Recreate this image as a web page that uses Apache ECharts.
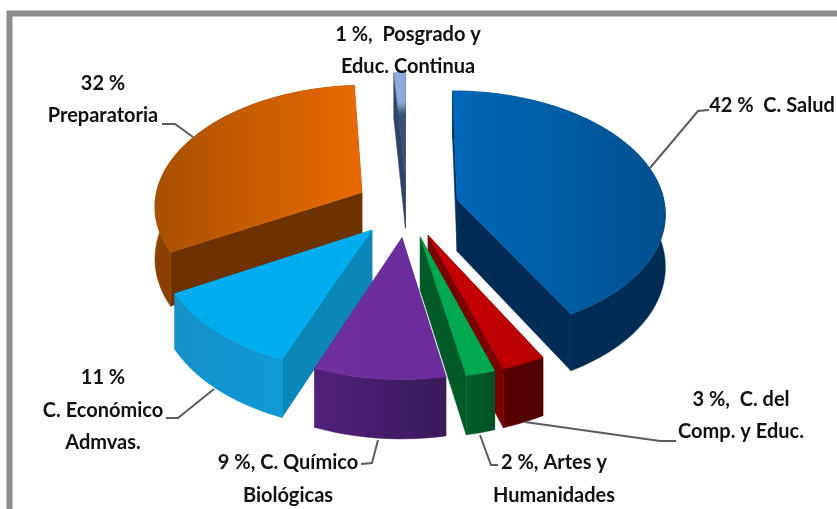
<!DOCTYPE html>
<html><head><meta charset="utf-8">
<style>html,body{margin:0;padding:0;background:#fff}#c{width:837px;height:509px;filter:blur(0.45px)}</style>
<script src="https://cdn.jsdelivr.net/npm/echarts@6/dist/echarts.min.js"></script>
</head><body><div id="c"></div>
<script>
// clockwise from 12 o'clock
const categories = ['C. Salud','C. del Comp. y Educ.','Artes y Humanidades','C. Químico Biológicas','C. Económico Admvas.','Preparatoria','Posgrado y Educ. Continua'];
const values = [42, 3, 2, 9, 11, 32, 1];
const topColors = [['#0068b8','#00508f'],['#c80000','#b80000'],['#00a84f','#00a84f'],['#7030a0','#6a2c9c'],['#00aeef','#00aeef'],['#a85000','#ea6a00'],['#8faadc','#3a5070']];
const arcWall = [['#002b55','#002b55'],['#5c0000','#4e0000'],['#00602c','#004f24'],['#521f7c','#381a5a'],['#1690c8','#0f9ad6'],['#8a4000','#8a4000'],['#2f4468','#2f4468']];
const startWall = ['#00305c','#4e0000','#00602c','#3c1a60','#0a86b8','#6e3200','#2f4468'];
const endWall = ['#002b55','#7a0000','#005a28','#4b1f78','#0a86b8','#6e3200','#2f4468'];
const verticalTop = [false,false,false,false,false,false,true];
const labels = [
  {lines:['42 %  C. Salud'],x:772,y:[106]},
  {lines:['3 %,  C. del','Comp. y Educ.'],x:741,y:[400,432]},
  {lines:['2 %, Artes y','Humanidades'],x:554,y:[463,496]},
  {lines:['9 %, C. Químico','Biológicas'],x:288,y:[463,496]},
  {lines:['11 %','C. Económico','Admvas.'],x:103,y:[378,411,443]},
  {lines:['32 %','Preparatoria'],x:103,y:[84,116]},
  {lines:['1 %,  Posgrado y','Educ. Continua'],x:408,y:[35,67]}
];
const leaders = [
  [[650,168],[698,111],[709,110]],
  [[525,422],[660,441],[676,441]],
  [[480,435],[491,465],[498,465]],
  [[378,440],[372,463],[361,464]],
  [[214,389],[178,418],[166,418]],
  [[193,137],[175,124],[162,124]]
];

const CX = 407, CY = 207, R = 208, EXPLODE = 52, P = 0.10, K = 0.581, H = 52;
const total = values.reduce((a,b)=>a+b,0);
const rad = d => d*Math.PI/180;
let acc = 0;
const spans = values.map(v => { const s = acc; acc += v/total*360; return [s, acc]; });
const rank = values.map((_,i)=>i).sort((a,b)=>{
  const m = i => Math.abs((spans[i][0]+spans[i][1])/2-180);
  return m(b)-m(a);
});
function proj(u, v, down){
  const f = 1/(1-P*v/R);
  return [CX+u*f, CY+v*K*f+(down?H*f:0)];
}
function grad(c, vertical){
  return vertical
    ? {type:'linear',x:0,y:0,x2:0,y2:1,colorStops:[{offset:0.28,color:c[0]},{offset:0.4,color:c[1]}]}
    : {type:'linear',x:0,y:0,x2:1,y2:0,colorStops:[{offset:0,color:c[0]},{offset:1,color:c[1]}]};
}

function renderItem(params, api){
  const i = params.dataIndex;
  const a0 = spans[i][0], a1 = spans[i][1], mid = (a0+a1)/2;
  const ou = EXPLODE*Math.sin(rad(mid)), ov = -EXPLODE*Math.cos(rad(mid));
  const arc = [];
  const n = Math.max(2, Math.ceil((a1-a0)/2));
  for(let k=0;k<=n;k++){
    const t = rad(a0+(a1-a0)*k/n);
    arc.push([ou+R*Math.sin(t), ov-R*Math.cos(t)]);
  }
  const top = arc.map(p=>proj(p[0],p[1],false));
  const bot = arc.map(p=>proj(p[0],p[1],true));
  const apexT = proj(ou,ov,false), apexB = proj(ou,ov,true);
  const z = rank.indexOf(i)*10;
  const poly = (pts, fill, dz) => ({type:'polygon',z2:z+dz,shape:{points:pts},style:{fill:fill,stroke:fill,lineWidth:0.5}});
  return {type:'group',children:[
    poly([apexT,top[0],bot[0],apexB], startWall[i], 1),
    poly([apexT,top[n],bot[n],apexB], endWall[i], 2),
    poly(top.concat(bot.slice().reverse()), grad(arcWall[i]), 3),
    poly([apexT].concat(top), grad(topColors[i], verticalTop[i]), 4)
  ]};
}

const textEls = [];
labels.forEach(l => l.lines.forEach((s,j) => textEls.push({
  type:'text', z:20, x:l.x, y:l.y[j],
  style:{text:s, x:0, y:0, align:'center', verticalAlign:'middle', fill:'#111', font:'bold 20px Lato'}
})));
const lineEls = leaders.map(p => ({type:'polyline', z:19, shape:{points:p}, style:{stroke:'#5c5c5c', lineWidth:2, fill:null}}));
const frame = {type:'rect', z:0, shape:{x:9.5,y:13.5,width:900,height:600}, style:{fill:'#fff',stroke:'#8c8c8c',lineWidth:6}};

const chart = echarts.init(document.getElementById('c'), null, {renderer:'canvas', width:837, height:509});
chart.setOption({
  animation:false,
  backgroundColor:'#fff',
  graphic:{elements:[frame].concat(lineEls, textEls)},
  series:[{type:'custom', coordinateSystem:'none', clip:false, silent:true, z:10,
    renderItem, data:categories.map((c,i)=>({name:c,value:values[i]}))}]
});
</script></body></html>
